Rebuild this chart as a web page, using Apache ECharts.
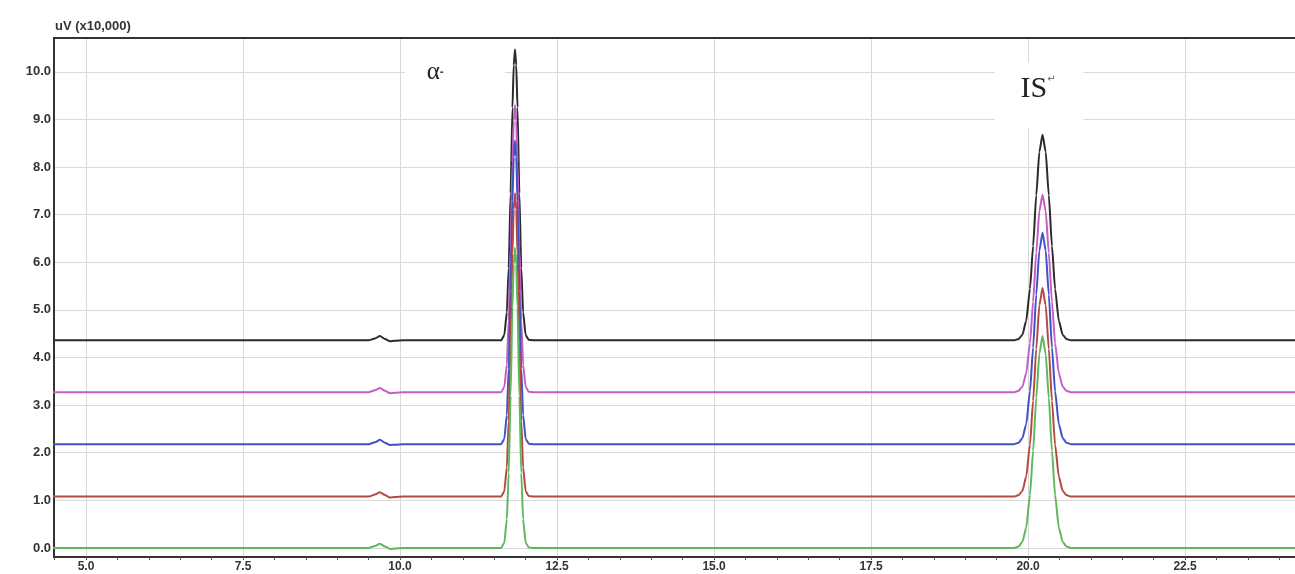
<!DOCTYPE html>
<html>
<head>
<meta charset="utf-8">
<script src="https://cdn.jsdelivr.net/npm/echarts@6/dist/echarts.min.js"></script>
<style>
html,body{margin:0;padding:0;background:#fff;}
#chart{width:1295px;height:574px;}
</style>
</head>
<body>
<div id="chart"></div>
<script>
// Retention time (min)
const times = [4.4,
  9.5, 9.6, 9.68, 9.76, 9.84, 9.92, 10.05,
  11.53, 11.61, 11.66, 11.70, 11.73, 11.76, 11.79, 11.81, 11.83, 11.85, 11.87, 11.90, 11.93, 11.96, 12.00, 12.05, 12.13,
  19.78, 19.85, 19.91, 19.97, 20.03, 20.08, 20.13, 20.18, 20.23, 20.28, 20.33, 20.38, 20.43, 20.49, 20.55, 20.61, 20.68,
  24.4];

// Detector signal (uV x10,000), offset traces
const blackTrace = [4.36,
  4.36, 4.40, 4.45, 4.39, 4.34, 4.35, 4.36,
  4.36, 4.36, 4.47, 4.95, 5.88, 7.45, 9.25, 10.14, 10.47, 10.14, 9.25, 7.45, 5.88, 4.95, 4.47, 4.37, 4.36,
  4.36, 4.39, 4.48, 4.77, 5.44, 6.34, 7.41, 8.32, 8.68, 8.32, 7.41, 6.34, 5.44, 4.77, 4.48, 4.39, 4.36,
  4.36];
const magentaTrace = [3.27,
  3.27, 3.31, 3.36, 3.30, 3.25, 3.26, 3.27,
  3.27, 3.27, 3.38, 3.85, 4.77, 6.32, 8.10, 8.97, 9.30, 8.97, 8.10, 6.32, 4.77, 3.85, 3.38, 3.28, 3.27,
  3.27, 3.30, 3.39, 3.67, 4.30, 5.17, 6.20, 7.08, 7.42, 7.08, 6.20, 5.17, 4.30, 3.67, 3.39, 3.30, 3.27,
  3.27];
const blueTrace = [2.18,
  2.18, 2.22, 2.27, 2.21, 2.16, 2.17, 2.18,
  2.18, 2.18, 2.29, 2.79, 3.77, 5.40, 7.28, 8.21, 8.55, 8.21, 7.28, 5.40, 3.77, 2.79, 2.29, 2.19, 2.18,
  2.18, 2.21, 2.31, 2.60, 3.29, 4.21, 5.32, 6.25, 6.62, 6.25, 5.32, 4.21, 3.29, 2.60, 2.31, 2.21, 2.18,
  2.18];
const redTrace = [1.08,
  1.08, 1.12, 1.17, 1.11, 1.06, 1.07, 1.08,
  1.08, 1.08, 1.19, 1.69, 2.67, 4.30, 6.18, 7.11, 7.45, 7.11, 6.18, 4.30, 2.67, 1.69, 1.19, 1.09, 1.08,
  1.08, 1.11, 1.20, 1.50, 2.17, 3.09, 4.18, 5.10, 5.46, 5.10, 4.18, 3.09, 2.17, 1.50, 1.20, 1.11, 1.08,
  1.08];
const greenTrace = [0.00,
  0.00, 0.04, 0.09, 0.03, -0.02, -0.01, 0.00,
  0.00, 0.00, 0.11, 0.60, 1.57, 3.19, 5.05, 5.96, 6.30, 5.96, 5.05, 3.19, 1.57, 0.60, 0.11, 0.01, 0.00,
  0.00, 0.03, 0.13, 0.43, 1.11, 2.04, 3.15, 4.08, 4.45, 4.08, 3.15, 2.04, 1.11, 0.43, 0.13, 0.03, 0.00,
  0.00];

// Tick values
const xTickLabels = [5.0, 7.5, 10.0, 12.5, 15.0, 17.5, 20.0, 22.5];
const xMinorTicks = [4.5, 5.0, 5.5, 6.0, 6.5, 7.0, 7.5, 8.0, 8.5, 9.0, 9.5, 10.0, 10.5, 11.0, 11.5, 12.0,
  12.5, 13.0, 13.5, 14.0, 14.5, 15.0, 15.5, 16.0, 16.5, 17.0, 17.5, 18.0, 18.5, 19.0, 19.5, 20.0,
  20.5, 21.0, 21.5, 22.0, 22.5, 23.0, 23.5, 24.0];
const yTickLabels = [0, 1, 2, 3, 4, 5, 6, 7, 8, 9, 10];

// Peak annotations
const peakNames = ['α', 'IS'];

const traces = [
  {name: 'black', values: blackTrace, color: '#2b2b2b'},
  {name: 'magenta', values: magentaTrace, color: '#c45ec4'},
  {name: 'blue', values: blueTrace, color: '#3f51c6'},
  {name: 'red', values: redTrace, color: '#b44a42'},
  {name: 'green', values: greenTrace, color: '#5db85e'}
];

const chart = echarts.init(document.getElementById('chart'), null, {renderer: 'canvas'});

const series = traces.map(function (t) {
  return {
    type: 'line',
    name: t.name,
    xAxisIndex: 0,
    yAxisIndex: 0,
    z: 3,
    showSymbol: false,
    smooth: 0.2,
    smoothMonotone: 'x',
    lineStyle: {color: t.color, width: 2},
    itemStyle: {color: t.color},
    emphasis: {disabled: true},
    data: times.map(function (x, i) { return [x, t.values[i]]; })
  };
});

// annotation layer (white boxes behind peak names, above gridlines)
series.unshift({
  type: 'line',
  name: 'annot',
  xAxisIndex: 0,
  yAxisIndex: 0,
  z: 1,
  data: [],
  silent: true,
  markArea: {
    silent: true,
    itemStyle: {color: '#ffffff', opacity: 1},
    data: [
      [{coord: [10.08, 10.67]}, {coord: [11.67, 9.10]}],
      [{coord: [19.47, 10.19]}, {coord: [20.88, 8.82]}]
    ]
  },
  markPoint: {
    silent: true,
    symbolSize: 0,
    label: {show: true, position: 'inside'},
    data: [
      {coord: [10.56, 9.98], value: 0,
        label: {formatter: '{a|' + peakNames[0] + '}{s|-}',
          rich: {a: {fontFamily: 'Liberation Serif', fontSize: 25, color: '#222'},
                 s: {fontFamily: 'Liberation Sans', fontSize: 12, fontWeight: 'bold', color: '#444'}}}},
      {coord: [20.16, 9.64], value: 0,
        label: {formatter: '{a|' + peakNames[1] + '}{s|↵}',
          rich: {a: {fontFamily: 'Liberation Serif', fontSize: 30, color: '#222'},
                 s: {fontFamily: 'DejaVu Sans', fontSize: 10, color: '#666', verticalAlign: 'top', padding: [0, 0, 10, 0]}}}}
    ]
  }
});

const option = {
  backgroundColor: '#ffffff',
  animation: false,
  grid: {left: 54, right: 0, top: 38, bottom: 17, containLabel: false},
  graphic: [{
    type: 'text', left: 55, top: 20,
    style: {text: 'uV (x10,000)', font: 'bold 13px "Liberation Sans"', fill: '#333'}
  }],
  xAxis: [{
    type: 'value',
    min: 4.49, max: 24.25,
    position: 'bottom',
    axisLine: {onZero: false, lineStyle: {color: '#333', width: 2}},
    axisTick: {show: true, customValues: xMinorTicks, length: 3, lineStyle: {color: '#555'}},
    axisLabel: {customValues: xTickLabels, margin: 4, formatter: function (v) { return v.toFixed(1); }, fontFamily: 'Liberation Sans', fontSize: 12, fontWeight: 'bold', color: '#333'},
    splitLine: {show: false}
  }, {
    type: 'value',
    min: 4.49, max: 24.25,
    position: 'top',
    axisLine: {show: true, onZero: false, lineStyle: {color: '#333', width: 2}},
    axisTick: {show: false, customValues: xTickLabels},
    axisLabel: {show: false},
    splitLine: {show: true, lineStyle: {color: '#d9d9d9', width: 1}}
  }],
  yAxis: [{
    type: 'value',
    min: -0.19, max: 10.71,
    axisLine: {show: true, onZero: false, lineStyle: {color: '#333', width: 2}},
    axisTick: {show: false, customValues: yTickLabels},
    axisLabel: {customValues: yTickLabels, margin: 3, formatter: function (v) { return v.toFixed(1); }, fontFamily: 'Liberation Sans', fontSize: 13, fontWeight: 'bold', color: '#333'},
    splitLine: {show: true, lineStyle: {color: '#d9d9d9', width: 1}}
  }],
  series: series
};

chart.setOption(option);
</script>
</body>
</html>
